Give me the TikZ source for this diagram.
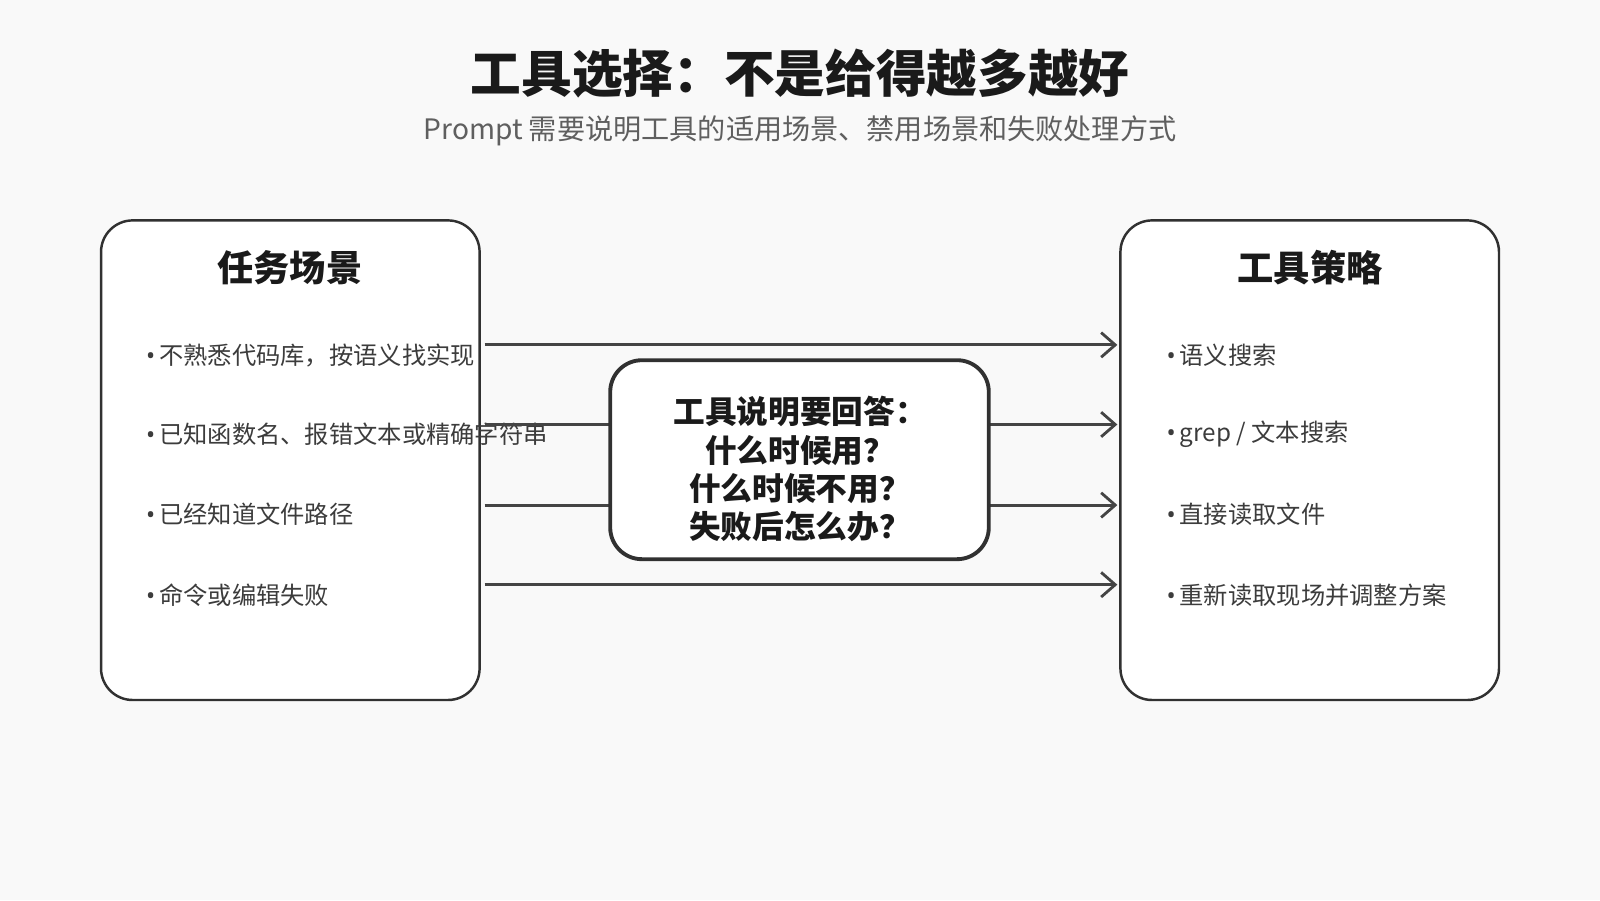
\documentclass[tikz,border=0pt]{standalone}
\usepackage{fontspec}
\setmainfont{Noto Sans CJK SC}
\newfontfamily\latinfont{Noto Sans}
\usetikzlibrary{arrows.meta,positioning}
\definecolor{bgc}{HTML}{F9F9F9}
\definecolor{inkc}{HTML}{1A1A1A}
\definecolor{linec}{HTML}{444444}
\newcommand{\bul}{{\latinfont•}\,}

\begin{document}
\begin{tikzpicture}[x=0.0102cm,y=-0.0102cm,
    panel/.style={draw=inkc!90,line width=0.7pt,fill=white,rounded corners=9pt},
    item/.style={anchor=west,font=\fontsize{6.9}{8}\selectfont,text=inkc!85},
    flow/.style={draw=linec,line width=0.8pt,-{Straight Barb[length=4pt,width=7pt]}},
    plain/.style={draw=linec,line width=0.8pt}]

      % background and page size
      \fill[bgc] (0,0) rectangle (1568,882);
      \useasboundingbox (0,0) rectangle (1568,882);

      % title lines
      \node[font=\fontsize{14.4}{17}\selectfont\bfseries,text=inkc] (title) at (784,72) {工具选择：不是给得越多越好};
      \node[font=\fontsize{8.0}{10}\selectfont,text=inkc!70] (subtitle) at (784,128) {Prompt 需要说明工具的适用场景、禁用场景和失败处理方式};

      % the two panels
      \draw[panel] (99,216) rectangle (470,686);
      \draw[panel] (1098,216) rectangle (1469,686);
      \node[font=\fontsize{10.3}{12}\selectfont\bfseries,text=inkc] (taskhead) at (284,262) {任务场景};
      \node[font=\fontsize{10.3}{12}\selectfont\bfseries,text=inkc] (toolhead) at (1284,262) {工具策略};

      % left items
      \node[item] (task1) at (131,348) {\bul 不熟悉代码库，按语义找实现};
      \node[item] (task2) at (131,426) {\bul 已知函数名、报错文本或精确字符串};
      \node[item] (task3) at (131,504) {\bul 已经知道文件路径};
      \node[item] (task4) at (131,583) {\bul 命令或编辑失败};

      % right items
      \node[item] (tool1) at (1131,348) {\bul 语义搜索};
      \node[item] (tool2) at (1131,426) {\bul grep / 文本搜索};
      \node[item] (tool3) at (1131,504) {\bul 直接读取文件};
      \node[item] (tool4) at (1131,583) {\bul 重新读取现场并调整方案};

      % ends of the connectors
      \coordinate (l1) at (475,338);
      \coordinate (l2) at (475,416);
      \coordinate (l3) at (475,495);
      \coordinate (l4) at (475,573);
      \coordinate (r1) at (1095,338);
      \coordinate (r2) at (1095,416);
      \coordinate (r3) at (1095,495);
      \coordinate (r4) at (1095,573);
      \coordinate (cl2) at (598,416);
      \coordinate (cl3) at (598,495);
      \coordinate (cr2) at (969,416);
      \coordinate (cr3) at (969,495);

      % connectors
      \draw[flow] (l1) -- (r1);
      \draw[plain] (l2) -- (cl2);
      \draw[flow] (cr2) -- (r2);
      \draw[plain] (l3) -- (cl3);
      \draw[flow] (cr3) -- (r3);
      \draw[flow] (l4) -- (r4);

      % centre box
      \draw[panel,line width=1.1pt] (598,353) rectangle (969,548);
      \node[font=\fontsize{9.0}{10.9}\selectfont\bfseries,text=inkc,align=center] (question) at (784,460)
        {工具说明要回答：\\什么时候用？\\什么时候不用？\\失败后怎么办？};

\end{tikzpicture}
\end{document}
